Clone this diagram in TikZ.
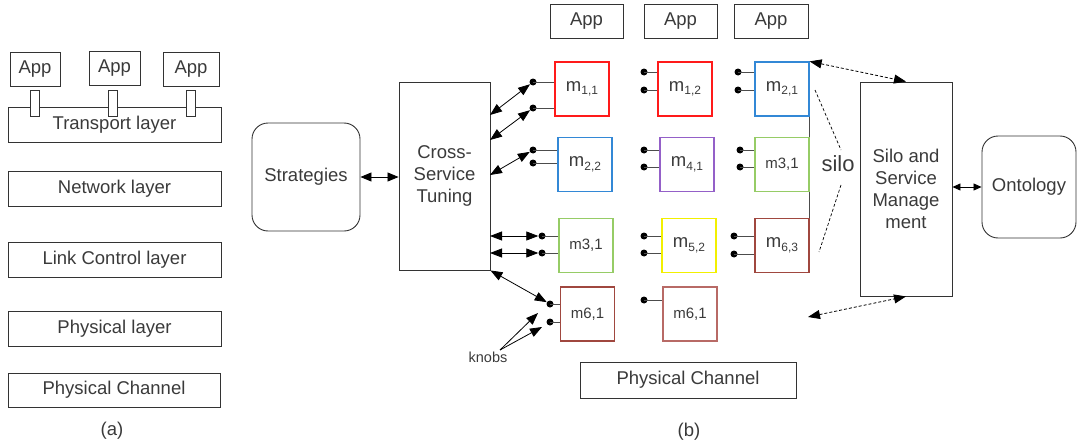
\documentclass[tikz,border=0pt]{standalone}
\usepackage{fontspec}
\setmainfont{Liberation Sans}
\usetikzlibrary{arrows.meta}

\definecolor{txt}{HTML}{3A3A3A}
\definecolor{mred}{HTML}{FF1A1A}
\definecolor{mblue}{HTML}{3388D6}
\definecolor{mpurple}{HTML}{9460C8}
\definecolor{mgreen}{HTML}{96CC66}
\definecolor{myellow}{HTML}{F2F000}
\definecolor{mbrown}{HTML}{A0473F}
\definecolor{mbrownl}{HTML}{B86A66}

\newcommand\msub[1]{m\raisebox{-3.5pt}{\fontsize{12}{12}\selectfont#1}}

\begin{document}
\begin{tikzpicture}[x=1pt,y=-1pt]
\tikzset{box/.style={draw=black!80,line width=0.9pt,inner sep=0pt,text=txt,
            font=\fontsize{18.5}{22}\selectfont,align=center},
        layer/.style={box,minimum width=213pt,minimum height=35pt},
        mbox/.style={box,draw=#1,line width=1.2pt,minimum width=54pt,minimum height=54pt},
        small/.style={font=\fontsize{15}{18}\selectfont},
        knob/.style={circle,fill=black,inner sep=0pt,minimum size=7pt},
        wire/.style={draw=black!70,line width=0.9pt},
        both/.style={line width=0.8pt,{Triangle[length=12pt,width=9pt]}-{Triangle[length=12pt,width=9pt]}},
        dashboth/.style={both,dash pattern=on 3pt off 2pt}}
\useasboundingbox (0,0) rectangle (1078,444);

% (a) layered stack
\node[box,minimum width=50pt,minimum height=34pt] (appa1) at (35,69) {App};
\node[box,minimum width=51pt,minimum height=34pt] (appa2) at (114.5,68) {App};
\node[box,minimum width=56pt,minimum height=34pt] (appa3) at (191,69) {App};
\node[layer] (transport) at (114.5,124.5) {Transport layer};
\node[box,fill=white,minimum width=9pt,minimum height=26pt] (taba1) at (34.5,103) {};
\node[box,fill=white,minimum width=9pt,minimum height=26pt] (taba2) at (113,103) {};
\node[box,fill=white,minimum width=9pt,minimum height=26pt] (taba3) at (190.5,103) {};
\node[layer] (network) at (114.5,189) {Network layer};
\node[layer] (link) at (114.5,259.5) {Link Control layer};
\node[layer] (phylayer) at (114.5,328.5) {Physical layer};
\node[layer,minimum width=212pt,minimum height=34pt] (phychana) at (114,390) {Physical Channel};
\node[text=txt,font=\fontsize{18.5}{22}\selectfont] (capa) at (112,431) {(a)};

% (b) silos
\node[box,rounded corners=16pt,minimum width=108pt,minimum height=108pt] (strat) at (306,177) {Strategies};
\node[box,minimum width=91pt,minimum height=188pt] (cst) at (444.5,176) {Cross-\\Service\\Tuning};
\draw[both,{Triangle[length=11pt,width=9pt]}-{Triangle[length=11pt,width=9pt]}] (strat.east) -- (cst.west |- strat.east);

\node[box,minimum width=73pt,minimum height=34pt] (appb1) at (586.5,21) {App};
\node[box,minimum width=73pt,minimum height=34pt] (appb2) at (680.5,21) {App};
\node[box,minimum width=74pt,minimum height=34pt] (appb3) at (771,21) {App};

\node[mbox=mred] (m11) at (582,89) {\msub{1,1}};
\node[mbox=mred] (m12) at (685,89) {\msub{1,2}};
\node[mbox=mblue] (m21) at (782,89) {\msub{2,1}};
\node[mbox=mblue] (m22) at (585,164.5) {\msub{2,2}};
\node[mbox=mpurple] (m41) at (687,164.5) {\msub{4,1}};
\node[mbox=mgreen,small] (m31b) at (782,164.5) {m3,1};
\node[mbox=mgreen,small] (m31a) at (586,245.5) {m3,1};
\node[mbox=myellow] (m52) at (689,245.5) {\msub{5,2}};
\node[mbox=mbrown] (m63) at (782,245.5) {\msub{6,3}};
\node[mbox=mbrown,small] (m61a) at (587.5,314) {m6,1};
\node[mbox=mbrownl,small] (m61b) at (690,314) {m6,1};
\node[box,minimum width=216pt,minimum height=36pt] (phychanb) at (688,380) {Physical Channel};
\node[text=txt,font=\fontsize{18.5}{22}\selectfont] (capb) at (689,432) {(b)};

% the third column forms a silo
\draw[wire] (m21.south east) -- (m31b.north east);
\draw[wire] (m31b.south east) -- (m63.north east);

% knobs
\node[knob] (k11a) at (533,82) {};
\node[knob] (k11b) at (533,108) {};
\node[knob] (k12a) at (644,72) {};
\node[knob] (k12b) at (644,90) {};
\node[knob] (k21a) at (738,72) {};
\node[knob] (k21b) at (738,90) {};
\node[knob] (k22a) at (533,150) {};
\node[knob] (k22b) at (533,163) {};
\node[knob] (k41a) at (644,150) {};
\node[knob] (k41b) at (644,167) {};
\node[knob] (k31ba) at (740,150) {};
\node[knob] (k31bb) at (740,167) {};
\node[knob] (k31aa) at (542,236) {};
\node[knob] (k31ab) at (542,253) {};
\node[knob] (k52a) at (644,236) {};
\node[knob] (k52b) at (644,253) {};
\node[knob] (k63a) at (734,236) {};
\node[knob] (k63b) at (734,254) {};
\node[knob] (k61aa) at (550,304) {};
\node[knob] (k61ab) at (550,322) {};
\node[knob] (k61b) at (644,300) {};
\foreach \k/\m in {k11a/m11,k11b/m11,k12a/m12,k12b/m12,k21a/m21,k21b/m21,
        k22a/m22,k22b/m22,k41a/m41,k41b/m41,k31ba/m31b,k31bb/m31b,
        k31aa/m31a,k31ab/m31a,k52a/m52,k52b/m52,k63a/m63,k63b/m63,
        k61aa/m61a,k61ab/m61a,k61b/m61b}
    \draw[wire] (\k.center) -- (\k -| \m.west);

% tuning of the knobs
\coordinate (c1) at (490,115);
\coordinate (c2) at (490,140);
\coordinate (c3) at (490,175);
\coordinate (c4) at (490,236);
\coordinate (c5) at (490,253);
\draw[both] (c1) -- (k11a);
\draw[both] (c2) -- (k11b);
\draw[both] (c3) -- (k22a);
\draw[both] (c4) -- (k31aa);
\draw[both] (c5) -- (k31ab);
\draw[both] (cst.south east) -- (k61aa);

\node[text=txt,font=\fontsize{14.5}{16}\selectfont] (knobs) at (488,357) {knobs};
\coordinate (kn) at (500,350);
\coordinate (ka) at (538,313);
\coordinate (kb) at (542,327);
\draw[line width=0.8pt,-{Triangle[length=12pt,width=9pt]}] (kn) -- (ka);
\draw[line width=0.8pt,-{Triangle[length=12pt,width=9pt]}] (kn) -- (kb);

% silo management
\node[box,minimum width=92pt,minimum height=214pt] (ssm) at (906,189) {Silo and\\Service\\Manage\\ment};
\node[box,rounded corners=16pt,minimum width=94pt,minimum height=102pt] (onto) at (1029,187) {Ontology};
\draw[line width=0.8pt,{Triangle[length=8pt,width=7pt]}-{Triangle[length=8pt,width=7pt]}] (ssm.east |- onto.west) -- (onto.west);

\node[text=txt,font=\fontsize{22}{24}\selectfont] (silo) at (838,164) {silo};
\coordinate (s1) at (815,90);
\coordinate (s2) at (841,150);
\coordinate (s3) at (841,185);
\coordinate (s4) at (819,252);
\draw[line width=0.7pt,dash pattern=on 3pt off 2pt] (s1) -- (s2);
\draw[line width=0.7pt,dash pattern=on 3pt off 2pt] (s3) -- (s4);
\coordinate (lo) at (808,317);
\draw[dashboth] (m21.north east) -- (ssm.north);
\draw[dashboth] (lo) -- (ssm.south);
\end{tikzpicture}
\end{document}
